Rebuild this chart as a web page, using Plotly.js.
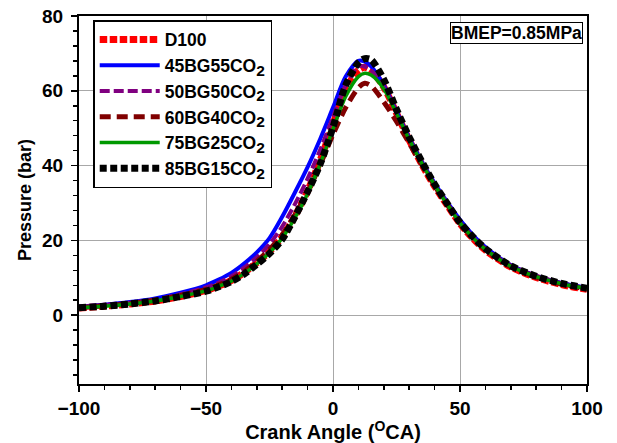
<!DOCTYPE html>
<html>
<head>
<meta charset="utf-8">
<script src="https://cdn.plot.ly/plotly-3.0.1.min.js"></script>
<style>html,body{margin:0;padding:0;background:#fff;}#chart{width:617px;height:443px;}</style>
</head>
<body>
<div id="chart"></div>
<script>
const crankAngle = [-100,-90,-80,-70,-60,-50,-45,-40,-35,-30,-25,-20,-15,-10,-5,0,5,10,12.5,15,20,25,30,35,40,45,50,55,60,70,80,90,100];

const sub2 = "<sub><span style='font-size:15.5px'>2</span></sub>";
const seriesNames = ["D100","45BG55CO"+sub2,"50BG50CO"+sub2,"60BG40CO"+sub2,"75BG25CO"+sub2,"85BG15CO"+sub2];

const pD100 =      [1.9,2.4,3.0,3.8,5.0,6.6,7.8,9.3,11.4,14.0,17.0,21.0,26.5,33.2,41.5,51.0,60.5,65.5,66.3,65.5,61.0,54.0,46.8,40.3,34.5,29.4,24.5,20.6,17.4,12.9,10.1,8.2,6.9];
const p45BG55CO2 = [2.3,2.8,3.5,4.5,6.0,8.0,9.5,11.3,13.8,16.8,20.6,26.3,32.8,39.6,47.2,55.5,63.8,68.0,67.8,66.5,61.5,54.5,47.5,41.0,35.3,30.2,25.5,21.5,18.2,13.4,10.5,8.6,7.3];
const p50BG50CO2 = [2.2,2.7,3.3,4.2,5.6,7.4,8.7,10.4,12.7,15.5,19.0,23.7,29.7,36.5,44.3,53.0,61.5,66.6,66.5,65.5,61.0,54.0,47.0,40.6,34.9,29.8,24.8,20.9,17.7,13.2,10.4,8.5,7.2];
const p60BG40CO2 = [2.0,2.5,3.1,4.0,5.3,6.9,8.1,9.6,11.7,14.4,17.6,21.5,26.8,33.0,40.3,48.3,55.5,60.8,62.0,61.3,57.0,51.8,46.0,40.2,34.6,29.5,24.6,20.7,17.5,13.0,10.2,8.3,7.0];
const p75BG25CO2 = [2.0,2.4,3.0,3.8,5.0,6.5,7.7,9.1,11.1,13.7,16.7,20.6,26.0,32.5,40.5,49.8,58.5,63.8,64.7,64.2,60.5,54.0,47.0,40.6,34.8,29.6,24.7,20.8,17.6,13.1,10.3,8.4,7.1];
const p85BG15CO2 = [2.0,2.4,3.0,3.8,5.0,6.4,7.6,9.0,11.0,13.6,16.5,20.3,26.3,33.0,40.5,50.3,61.5,67.5,68.6,68.3,63.0,55.0,47.6,41.0,35.0,29.8,24.8,21.0,17.8,13.2,10.4,8.5,7.2];

const FONT = "Liberation Sans, Arial, sans-serif";

const styles = [
  {color:"#ff0000", width:7, dash:"7.5px,2.5px"},
  {color:"#0000ff", width:4, dash:"solid"},
  {color:"#800080", width:4, dash:"10px,4px"},
  {color:"#800000", width:5, dash:"11px,6px"},
  {color:"#009900", width:3.5, dash:"solid"},
  {color:"#000000", width:7, dash:"7px,3.5px"}
];
const ys = [pD100,p45BG55CO2,p50BG50CO2,p60BG40CO2,p75BG25CO2,p85BG15CO2];

const traces = ys.map((y,i)=>({
  x: crankAngle, y: y, type:"scatter", mode:"lines",
  name: seriesNames[i],
  line: {color: styles[i].color, width: styles[i].width, dash: styles[i].dash, shape:"spline", smoothing:0.8}
}));

const layout = {
  width:617, height:443,
  margin:{l:79, r:30, t:16, b:59},
  paper_bgcolor:"#fff", plot_bgcolor:"#fff",
  font:{family:FONT, color:"#000"},
  showlegend:true,
  legend:{
    x:0.028, y:0.989, xanchor:"left", yanchor:"top",
    bgcolor:"#fff", bordercolor:"#000", borderwidth:1.5,
    font:{family:FONT, size:17.5, weight:"bold", color:"#000"},
    itemwidth:60
  },
  xaxis:{
    range:[-100,100], dtick:50, tick0:0,
    showgrid:true, gridcolor:"#a8a8a8", gridwidth:1,
    zeroline:false,
    showline:true, linecolor:"#000", linewidth:2, mirror:true,
    ticks:"outside", ticklen:6, tickwidth:1.5, tickcolor:"#000",
    minor:{dtick:10, ticks:"outside", ticklen:4, tickwidth:1.5, tickcolor:"#000", showgrid:false},
    tickfont:{family:FONT, size:19, weight:"bold", color:"#000"},
    title:{text:"Crank Angle (<sup>O</sup>CA)", font:{family:FONT, size:20, weight:"bold", color:"#000"}, standoff:0}
  },
  yaxis:{
    range:[-18.4,80], dtick:20, tick0:0,
    showgrid:true, gridcolor:"#a8a8a8", gridwidth:1,
    zeroline:false,
    showline:true, linecolor:"#000", linewidth:2, mirror:true,
    ticks:"outside", ticklen:6, tickwidth:1.5, tickcolor:"#000",
    ticklabelstandoff:4,
    minor:{dtick:4, ticks:"outside", ticklen:4, tickwidth:1.5, tickcolor:"#000", showgrid:false},
    tickfont:{family:FONT, size:19, weight:"bold", color:"#000"},
    title:{text:"Pressure (bar)", font:{family:FONT, size:18, weight:"bold", color:"#000"}, standoff:6}
  },
  annotations:[{
    xref:"paper", yref:"paper", x:0.992, y:0.985, xanchor:"right", yanchor:"top",
    text:"BMEP=0.85MPa", showarrow:false,
    font:{family:FONT, size:17.5, weight:"bold", color:"#000"},
    bordercolor:"#000", borderwidth:1, borderpad:0, bgcolor:"#fff"
  }]
};

Plotly.newPlot("chart", traces, layout, {staticPlot:true});
</script>
</body>
</html>
